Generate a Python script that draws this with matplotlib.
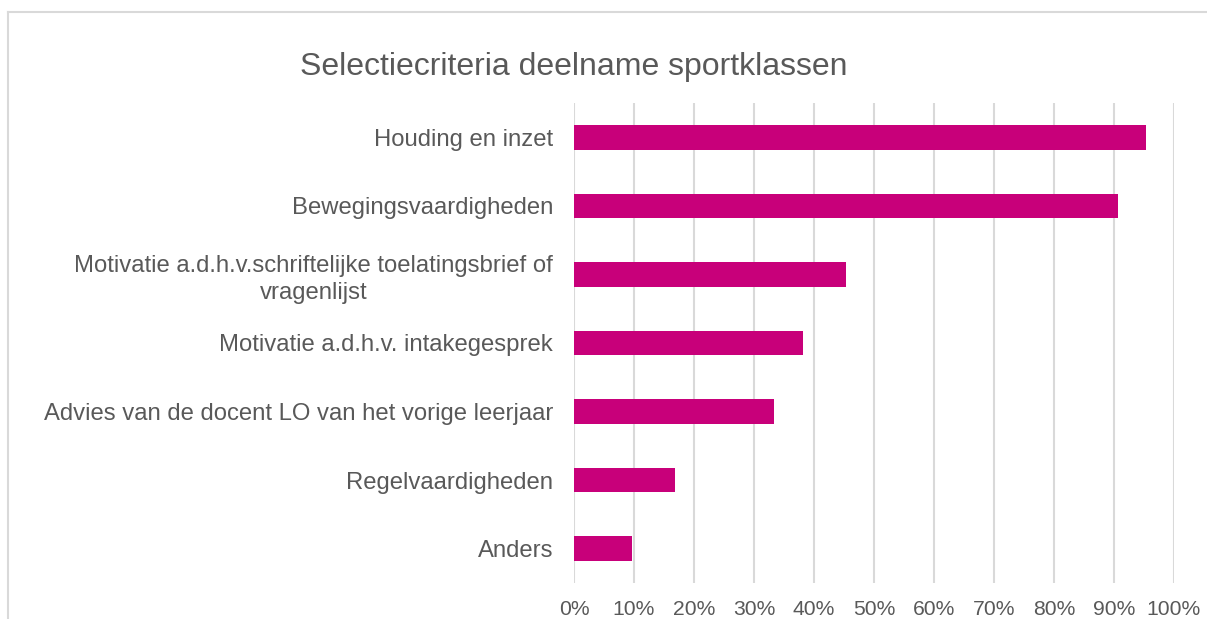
import matplotlib.pyplot as plt
from matplotlib.lines import Line2D

plt.rcParams['font.family'] = ['Liberation Sans', 'DejaVu Sans']

categories = [
    "Houding en inzet",
    "Bewegingsvaardigheden",
    "Motivatie a.d.h.v.schriftelijke toelatingsbrief of\nvragenlijst",
    "Motivatie a.d.h.v. intakegesprek",
    "Advies van de docent LO van het vorige leerjaar",
    "Regelvaardigheden",
    "Anders",
]
values = [95.3, 90.6, 45.3, 38.2, 33.4, 16.8, 9.6]
xticks = [0, 10, 20, 30, 40, 50, 60, 70, 80, 90, 100]
xticklabels = [f"{t}%" for t in xticks]

W, H = 1207, 619
fig = plt.figure(figsize=(W / 100, H / 100), dpi=100)
ax = fig.add_axes([574 / W, (H - 583) / H, 600 / W, 480 / H])

txt = "#595959"
pos = list(range(len(categories)))[::-1]
ax.barh(pos, values, height=0.36, color="#C8007A", zorder=3)

ax.set_xlim(0, 100)
ax.set_ylim(-0.5, len(categories) - 0.5)
ax.set_xticks(xticks)
ax.set_xticklabels(xticklabels, fontsize=15.2)
ax.set_yticks(pos)
ax.set_yticklabels(categories, multialignment="center", fontsize=17.2, linespacing=1.3)
ax.tick_params(axis="both", length=0, labelcolor=txt)
ax.tick_params(axis="y", pad=15)
ax.tick_params(axis="x", pad=12.5)
ax.grid(axis="x", color="#D9D9D9", linewidth=1.5, zorder=0)
for s in ax.spines.values():
    s.set_visible(False)

fig.text(574 / W, 1 - 67 / H, "Selectiecriteria deelname sportklassen",
         ha="center", va="center", fontsize=23, color=txt)

# chart area border (top and left visible)
fig.add_artist(Line2D([8 / W, 1.0], [1 - 11.5 / H, 1 - 11.5 / H], color="#D9D9D9", lw=1.5))
fig.add_artist(Line2D([8 / W, 8 / W], [0, 1 - 11.5 / H], color="#D9D9D9", lw=1.5))

fig.savefig("out.png", dpi=100)
